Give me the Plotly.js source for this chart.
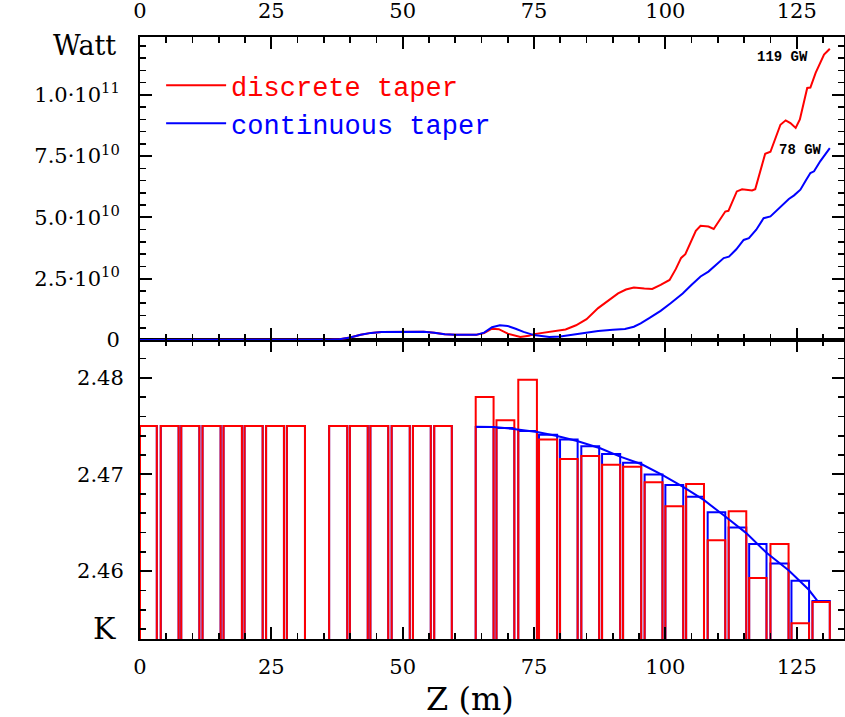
<!DOCTYPE html>
<html>
<head>
<meta charset="utf-8">
<script src="https://cdn.plot.ly/plotly-3.0.1.min.js"></script>
<style>html,body{margin:0;padding:0;background:#fff;}#chart{width:845px;height:717px;}</style>
</head>
<body>
<div id="chart"></div>
<script>
// ---------- DATA ----------
// Top panel: radiation power (GW) along the undulator, z in metres
const zDiscrete = [0,25,34,36,38,40,42,44,46,50,54,56,58,60,64,65.5,67,68.3,70,72.4,74,75,77,79.6,81,83,85,87.2,89,91,92.5,94,96,97.5,99.1,100.8,102,103,103.8,104.8,105.8,106.7,108.2,109.2,111.4,112,113.6,114.6,116.5,117.1,119,120,121.9,122.9,123.8,124.8,125.6,127,127.6,128.6,130.2,131.3];
const powerDiscreteGW = [0,0.02,0.05,0.1,0.35,1.0,2.1,2.9,3.3,3.4,3.35,3.0,2.3,2.1,2.1,2.8,4.6,4.4,2.6,1.2,1.7,2.4,3.0,3.7,4.3,6.0,8.5,13,16,19,20.6,21.4,21.0,20.8,22.5,24.5,29,33.5,35,40,44.5,46.6,46.3,45.3,52.4,52.7,60.6,61.5,61.0,61.5,76,76.8,87.8,89.6,88.5,86.5,90,102.8,103,109,116.4,118.8];
const zContinuous = [0,25,34,36,38,40,42,44,46,50,54,56,58,60,64,65.5,67,68.5,70,71.5,73,75,77.9,80,83,85,87.2,90,92.3,94,95.3,97,99.1,101,103.3,105,106.7,108.2,109.5,111.1,112.1,113.5,114.9,115.9,117.3,118.7,120,121.8,123.5,124.5,125.7,126.7,127.6,128.3,129.5,131.3];
const powerContinuousGW = [0,0.02,0.05,0.1,0.35,1.0,2.1,2.9,3.3,3.4,3.35,3.0,2.3,2.1,2.1,3.0,5.2,6.0,5.7,4.6,3.3,2.0,1.2,1.4,2.4,3.1,3.7,4.2,4.5,5.4,6.8,9,11.9,15,19,22.5,25.9,27.9,30.5,33.4,34,37,40.8,41.5,45,49.7,50.4,54,57.5,59,61.3,65,68.1,68.8,73,78.3];

// Bottom panel: undulator segments (start / end in m) and K values
const segStart = [0,3.95,7.85,11.9,15.9,19.9,24.0,27.95,36.0,39.95,43.85,47.9,51.95,56.0,63.9,67.85,72.0,75.95,79.95,84.0,87.95,91.95,96.05,100.0,103.95,108.05,112.05,115.95,120.0,124.0,128.0];
const segEnd   = [3.2,7.35,11.3,15.35,19.4,23.35,27.4,31.4,39.45,43.35,47.25,51.35,55.35,59.35,67.3,71.25,75.55,79.4,83.3,87.4,91.4,95.4,99.45,103.4,107.35,111.4,115.4,119.25,123.45,127.35,131.3];
const kDiscrete = [2.475,2.475,2.475,2.475,2.475,2.475,2.475,2.475,2.475,2.475,2.475,2.475,2.475,2.475,
                   2.4780,2.4756,2.4798,2.4736,2.4716,2.4719,2.4710,2.4708,2.4692,2.4667,2.4690,2.4632,2.4662,2.4593,2.4628,2.4546,2.4568];
const kContinuousSeg = [2.475,2.475,2.475,2.475,2.475,2.475,2.475,2.475,2.475,2.475,2.475,2.475,2.475,2.475,
                   2.4749,2.4748,2.4745,2.4741,2.4736,2.4729,2.4721,2.4712,2.4700,2.4689,2.4677,2.4661,2.4645,2.4628,2.4608,2.4590,2.4569];
// continuous taper curve
const zKcurve = [63.94,67.3,71.1,75.6,79.4,83.2,87.6,91.4,95.5,99.4,103.3,107.3,111.4,115.4,119.2,123.5,127.3,128.9];
const kCurve  = [2.47494,2.47491,2.4747,2.47439,2.47398,2.47346,2.4727,2.47184,2.47105,2.46995,2.46874,2.46737,2.46564,2.46393,2.46192,2.46006,2.45807,2.45696];

const xTicks = [0,25,50,75,100,125];
const kTicks = [2.46,2.47,2.48];
const kTickText = ['2.46','2.47','2.48'];
const pTicks = [0,2.5e10,5e10,7.5e10,1e11];
const pTickText = ['0','2.5·10<sup>10</sup>','5.0·10<sup>10</sup>','7.5·10<sup>10</sup>','1.0·10<sup>11</sup>'];

// ---------- BUILD ----------
const RED = '#ff0000', BLUE = '#0000ff';
const kBase = 2.45;
const centers = segStart.map((s,i)=>(s+segEnd[i])/2);
const widths = segStart.map((s,i)=>segEnd[i]-s);

const traces = [
  {type:'bar', x:centers, width:widths, base:kBase, y:kContinuousSeg.map(k=>k-kBase),
   xaxis:'x', yaxis:'y', marker:{color:'rgba(0,0,0,0)', line:{color:BLUE, width:2}},
   showlegend:false, hoverinfo:'skip'},
  {type:'bar', x:centers, width:widths, base:kBase, y:kDiscrete.map(k=>k-kBase),
   xaxis:'x', yaxis:'y', marker:{color:'rgba(0,0,0,0)', line:{color:RED, width:2}},
   showlegend:false, hoverinfo:'skip'},
  {type:'scatter', mode:'lines', x:zKcurve, y:kCurve, xaxis:'x', yaxis:'y',
   line:{color:BLUE, width:2}, showlegend:false, hoverinfo:'skip'},
  {type:'scatter', mode:'lines', x:zDiscrete, y:powerDiscreteGW.map(p=>p*1e9), xaxis:'x2', yaxis:'y2',
   line:{color:RED, width:2}, name:'<span style="color:#ff0000">discrete taper</span>'},
  {type:'scatter', mode:'lines', x:zContinuous, y:powerContinuousGW.map(p=>p*1e9), xaxis:'x2', yaxis:'y2',
   line:{color:BLUE, width:2}, name:'<span style="color:#0000ff">continuous taper</span>'}
];

function tickFont(){ return {family:'DejaVu Serif', size:21, color:'#000'}; }
function minorTicks(t0, dt){ return {tickmode:'linear', tick0:t0, dtick:dt, ticks:'inside', ticklen:6, tickwidth:1.6, tickcolor:'#000'}; }
function xAxis(extra){
  return Object.assign({
    range:[0,134], tickmode:'array', tickvals:xTicks.slice(), ticktext:xTicks.map(String),
    ticks:'inside', ticklen:12, tickwidth:2, tickcolor:'#000',
    showline:true, linewidth:2, linecolor:'#000', mirror:'allticks',
    minor:minorTicks(0,5), showgrid:false, zeroline:false, tickfont:tickFont(), fixedrange:true
  }, extra);
}
function yAxis(extra){
  return Object.assign({
    tickmode:'array', ticks:'inside', ticklen:12, tickwidth:2, tickcolor:'#000',
    showline:true, linewidth:2, linecolor:'#000', mirror:'allticks',
    showgrid:false, zeroline:false, tickfont:tickFont(), fixedrange:true
  }, extra);
}
const split = 299/602;

const layout = {
  width:845, height:717,
  margin:{l:140, r:1, t:37, b:78, pad:0},
  paper_bgcolor:'#fff', plot_bgcolor:'#fff',
  barmode:'overlay',
  showlegend:true,
  legend:{x:0.03, y:0.96, xanchor:'left', yanchor:'top', bgcolor:'rgba(0,0,0,0)', itemwidth:60,
          font:{family:'Liberation Mono', size:27, color:'#000'}, tracegroupgap:0},
  xaxis:xAxis({domain:[0,1], anchor:'y', side:'bottom', ticklabelstandoff:8}),
  xaxis2:xAxis({domain:[0,1], anchor:'y2', side:'top', ticklabelstandoff:9}),
  yaxis:yAxis({domain:[0,split], anchor:'x', range:[2.45298,2.4839],
    tickvals:kTicks, ticktext:kTickText, minor:minorTicks(2.46,0.002), ticklabelstandoff:10}),
  yaxis2:yAxis({domain:[split,1], anchor:'x2', range:[0,1.236e11],
    tickvals:pTicks, ticktext:pTickText, minor:minorTicks(0,5e9), ticklabelstandoff:14}),
  annotations:[
    {text:'Watt', xref:'paper', yref:'y2', x:0, y:1.2e11, xanchor:'right', yanchor:'middle', xshift:-22,
     showarrow:false, font:{family:'DejaVu Serif', size:27, color:'#000'}},
    {text:'K', xref:'paper', yref:'y', x:0, y:2.4541, xanchor:'right', yanchor:'middle', xshift:-22,
     showarrow:false, font:{family:'DejaVu Serif', size:30, color:'#000'}},
    {text:'<b>119 GW</b>', xref:'x2', yref:'y2', x:122.3, y:1.154e11, xanchor:'center', yanchor:'middle',
     showarrow:false, font:{family:'Liberation Mono', size:14, color:'#000'}},
    {text:'<b>78 GW</b>', xref:'x2', yref:'y2', x:125.7, y:7.76e10, xanchor:'center', yanchor:'middle',
     showarrow:false, font:{family:'Liberation Mono', size:14, color:'#000'}},
    {text:'Z (m)', xref:'paper', yref:'paper', x:(470-140)/704, y:0, xanchor:'center', yanchor:'middle', yshift:-60,
     showarrow:false, font:{family:'DejaVu Serif', size:32, color:'#000'}}
  ]
};

const gd = document.getElementById('chart');
Plotly.newPlot(gd, traces, layout, {displayModeBar:false, staticPlot:true}).then(function(){
  // safety: make sure tick marks exist on every axis, otherwise redraw
  var missing = ['x','x2','y','y2'].some(function(a){ return gd.querySelectorAll('path.'+a+'tick').length === 0; });
  if (missing) { return Plotly.redraw(gd); }
});
</script>
</body>
</html>
